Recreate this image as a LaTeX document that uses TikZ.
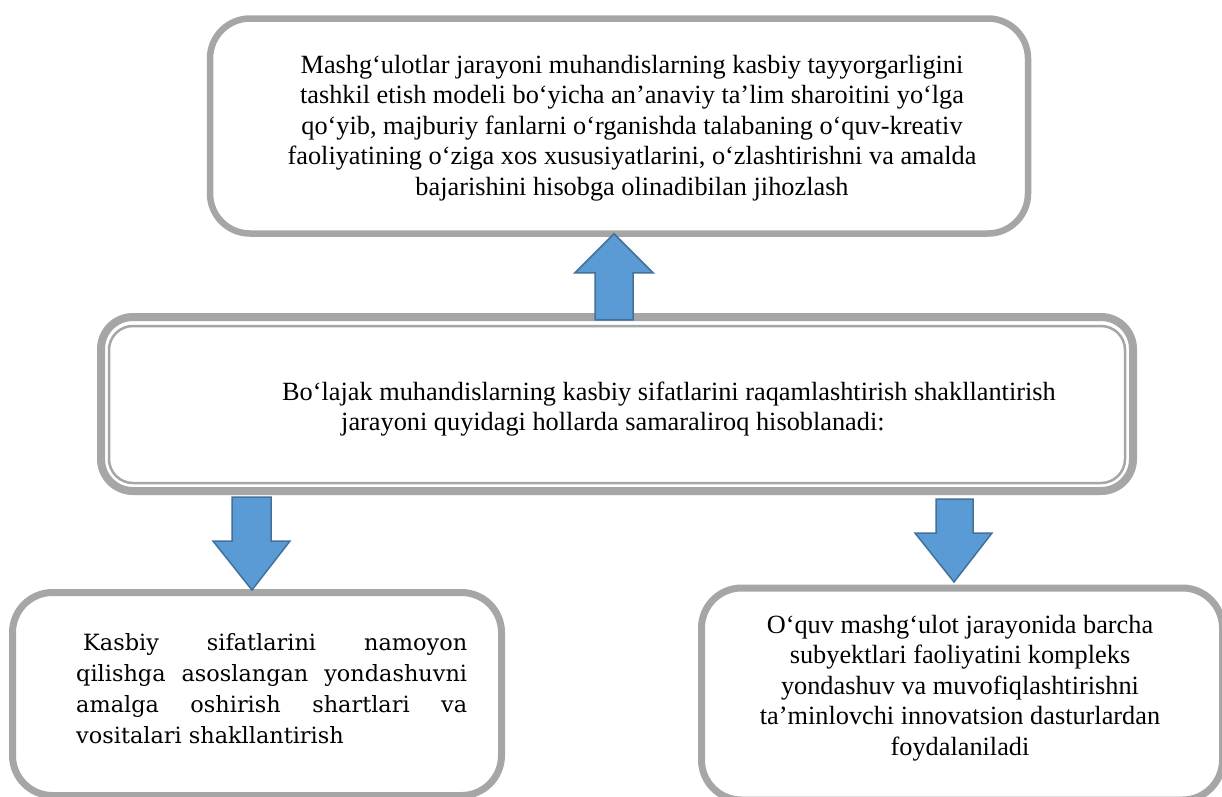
\documentclass[tikz,border=0pt]{standalone}
\usepackage{fontspec}
\setmainfont{Liberation Serif}
\newfontfamily\cambriafont{DejaVu Serif}
\definecolor{boxgray}{HTML}{A6A6A6}
\definecolor{arrowfill}{HTML}{5B9BD5}
\definecolor{arrowline}{HTML}{41719C}
\tikzset{
  box/.style={draw=boxgray, line width=7pt, rounded corners=40pt, inner sep=0pt},
  innerline/.style={draw=boxgray, line width=2.5pt, rounded corners=24pt},
  barrow/.style={fill=arrowfill, draw=arrowline, line width=1.5pt, line join=miter},
  times/.style={font=\fontsize{26.3}{30.5}\selectfont, inner sep=0pt},
  camb/.style={font=\cambriafont\fontsize{22.4}{31}\selectfont, inner sep=0pt}
}
\begin{document}
\begin{tikzpicture}[x=1pt,y=-1pt]
\useasboundingbox (0,0) rectangle (1222,796);
\fill[white] (0,0) rectangle (1222,796);
\begin{scope}
\clip (0,0) rectangle (1222,796);
% boxes
\node[box, line width=6.5pt, minimum width=818pt, minimum height=215pt] (top) at (619,126) {};
\node[box, line width=8pt, rounded corners=32pt, minimum width=1032pt, minimum height=174pt] (mid) at (617,404) {};
\draw[innerline] (109,326) rectangle (1125,483);
\node[box, minimum width=489pt, minimum height=203pt] (left) at (257,589) [anchor=north] {};
\node[box, minimum width=521pt, minimum height=212pt] (right) at (962,584.5) [anchor=north] {};
% texts
\node[times, align=center] (toptext) at (632,128) {Mashg‘ulotlar jarayoni muhandislarning kasbiy tayyorgarligini\\
tashkil etish modeli bo‘yicha an’anaviy ta’lim sharoitini yo‘lga\\
qo‘yib, majburiy fanlarni o‘rganishda talabaning o‘quv-kreativ\\
faoliyatining o‘ziga xos xususiyatlarini, o‘zlashtirishni va amalda\\
bajarishini hisobga olinadibilan jihozlash};
\node[times, anchor=base west] (midtext1) at (282,400) {Bo‘lajak muhandislarning kasbiy sifatlarini raqamlashtirish shakllantirish};
\node[times, anchor=base west] (midtext2) at (341,430) {jarayoni quyidagi hollarda samaraliroq hisoblanadi:};
\node[camb, anchor=north west, text width=391pt, align=justify] (lefttext) at (76,633) {\hspace*{7pt}Kasbiy sifatlarini namoyon\linebreak qilishga asoslangan yondashuvni\linebreak amalga oshirish shartlari va\linebreak vositalari shakllantirish};
\node[times, align=center] (righttext) at (960,688) {O‘quv mashg‘ulot jarayonida barcha\\
subyektlari faoliyatini kompleks\\
yondashuv va muvofiqlashtirishni\\
ta’minlovchi innovatsion dasturlardan\\
foydalaniladi};
% block arrows
\draw[barrow] (top.south -| 614,0) ++(0,-3) -- ++(39,39) -- ++(-20,0) -- ++(0,47) -- ++(-38,0) -- ++(0,-47) -- ++(-20,0) -- cycle;
\draw[barrow] (mid.south -| 232,0) ++(0,2) -- ++(39,0) -- ++(0,44) -- ++(19,0) -- ++(-38,49) -- ++(-39,-49) -- ++(19,0) -- cycle;
\draw[barrow] (mid.south -| 936,0) ++(0,4) -- ++(37,0) -- ++(0,34) -- ++(19,0) -- ++(-38,49) -- ++(-39,-49) -- ++(21,0) -- cycle;
\end{scope}
\end{tikzpicture}
\end{document}
